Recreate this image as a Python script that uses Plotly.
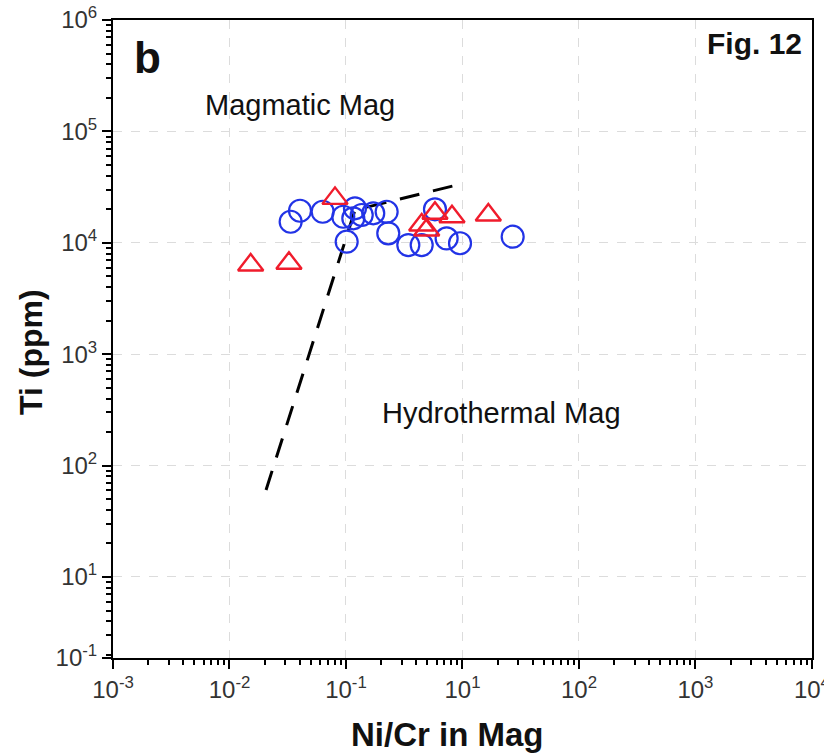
import numpy as np
import plotly.graph_objects as go

# ---- data (in the axis' underlying log scale) ----
circle_x = [0.0335, 0.0403, 0.0631, 0.0948, 0.1014, 0.1194, 0.1156, 0.1365, 0.1714, 0.2234, 0.2307, 0.3428, 0.4467, 0.5808, 0.7311, 0.9528, 2.698]
circle_y = [15460, 19410, 19010, 17140, 10230, 20420, 16600, 17780, 18410, 19010, 12160, 9550, 9550, 20000, 10960, 9910, 11350]

tri_x = [0.0152, 0.0324, 0.0805, 0.4467, 0.4932, 0.5808, 0.8128, 1.667]
tri_y = [6320, 6550, 25060, 14450, 13030, 18410, 17140, 17780]

line_x = [0.0206, 0.1194, 1.050]
line_y = [60.4, 19680, 34430]

x_tickvals = [1e-3, 1e-2, 1e-1, 1, 10, 100, 1000]
x_ticktext = ["10<sup>-3</sup>", "10<sup>-2</sup>", "10<sup>-1</sup>", "10<sup>1</sup>",
              "10<sup>2</sup>", "10<sup>3</sup>", "10<sup>4</sup>"]
y_bottom_log = 0.273
y_tickvals = [10 ** y_bottom_log, 10, 100, 1000, 1e4, 1e5, 1e6]
y_ticktext = ["10<sup>-1</sup>", "10<sup>1</sup>", "10<sup>2</sup>", "10<sup>3</sup>",
              "10<sup>4</sup>", "10<sup>5</sup>", "10<sup>6</sup>"]

minor_x = [m * 10.0 ** k for k in range(-3, 3) for m in range(2, 10)]
minor_y = [m * 10.0 ** k for k in range(0, 6) for m in range(2, 10)]

FONT = "Liberation Sans, Arial, sans-serif"

fig = go.Figure()
fig.add_trace(go.Scatter(x=line_x, y=line_y, mode="lines",
                         line=dict(color="black", width=3, dash="20px,14px"),
                         showlegend=False, hoverinfo="skip"))
fig.add_trace(go.Scatter(x=circle_x, y=circle_y, mode="markers",
                         marker=dict(symbol="circle-open", size=22, color="#2233e6",
                                     line=dict(width=2.2, color="#2233e6")),
                         showlegend=False))
fig.add_trace(go.Scatter(x=tri_x, y=tri_y, mode="markers",
                         marker=dict(symbol="triangle-up-open", size=22, color="#f01c2c",
                                     line=dict(width=2.4, color="#f01c2c")),
                         showlegend=False))

axis_common = dict(
    type="log", showline=True, linecolor="black", linewidth=2, mirror=True,
    ticks="outside", ticklen=9, tickwidth=2, tickcolor="black",
    showgrid=True, gridcolor="#dcdcdc", griddash="dash", gridwidth=1,
    zeroline=False, tickmode="array", ticklabeloverflow="allow", automargin=False,
    tickfont=dict(family=FONT, size=24, color="#333"),
)

fig.update_xaxes(**axis_common, range=[-3, 3.0005], tickvals=x_tickvals, ticktext=x_ticktext,
                 minor=dict(tickmode="array", tickvals=minor_x, ticks="outside", ticklen=5,
                            tickwidth=1.5, tickcolor="black", showgrid=False))
fig.update_yaxes(**axis_common, range=[y_bottom_log - 0.0005, 6.0005], tickvals=y_tickvals, ticktext=y_ticktext,
                 minor=dict(tickmode="array", tickvals=minor_y, ticks="outside", ticklen=5,
                            tickwidth=1.5, tickcolor="black", showgrid=False))

ann = [
    dict(text="<b>b</b>", x=147, y=57, size=44),
    dict(text="<b>Fig. 12</b>", x=754, y=44, size=30),
    dict(text="Magmatic Mag", x=300, y=105, size=29),
    dict(text="Hydrothermal Mag", x=501, y=413, size=29),
    dict(text="<b>Ni/Cr in Mag</b>", x=447, y=734, size=33),
]
for a in ann:
    fig.add_annotation(text=a["text"], xref="paper", yref="paper",
                       x=(a["x"] - 113) / (812 - 113), y=1 - (a["y"] - 20) / (658 - 20),
                       showarrow=False, xanchor="center", yanchor="middle",
                       font=dict(family=FONT, size=a["size"], color="#111"))
fig.add_annotation(text="<b>Ti (ppm)</b>", xref="paper", yref="paper",
                   x=(31 - 113) / (812 - 113), y=1 - (352 - 20) / (658 - 20),
                   showarrow=False, textangle=-90, xanchor="center", yanchor="middle",
                   font=dict(family=FONT, size=32, color="#111"))

fig.update_layout(width=824, height=754, margin=dict(l=113, r=12, t=20, b=96, autoexpand=False),
                  plot_bgcolor="white", paper_bgcolor="white")

fig.write_html("out.html")
